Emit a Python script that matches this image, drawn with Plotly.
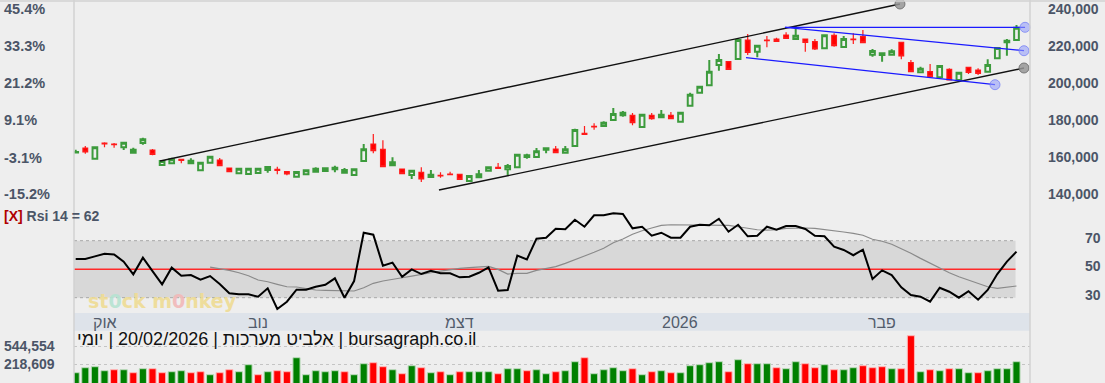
import plotly.graph_objects as go
import math

# ---------------- data ----------------
opens = [162600, 165030, 159250, 167730, 167190, 165410, 162490, 167730, 163950, 155840,
         156760, 158920, 156760, 152980, 157090, 158540, 154220, 151360, 150980, 151520,
         153140, 153520, 152220, 149520, 150820, 152220, 152600, 153520, 151680, 150440,
         158000, 167190, 164330, 155680, 153680, 150440, 151900, 149360, 150280, 150980,
         150820, 147200, 149200, 152760, 154600, 153520, 154600, 160170, 160170, 164110,
         164490, 162490, 166110, 172980, 176760, 176920, 180170, 182710, 182710, 176380,
         182710, 181630, 182710, 179250, 187900, 194920, 198920, 209890, 211680, 213140,
         223410, 217080, 223410, 223950, 226110, 223950, 223950, 222490, 218920, 225950,
         219620, 223950, 225190, 215460, 215300, 215460, 222160, 211140, 205950, 206270,
         203250, 207570, 201790, 208650, 207190, 206270, 213520, 222160, 223410]
highs = [164100, 166110, 165500, 168110, 167730, 168000, 165200, 170600, 164490, 158550,
         159800, 159100, 159460, 157200, 160400, 159630, 154300, 154000, 154000, 154000,
         155000, 154920, 152300, 152300, 153100, 154600, 154200, 155470, 154220, 153600,
         167190, 172600, 169190, 160000, 153750, 152850, 154600, 153140, 151900, 152220,
         151000, 150000, 153140, 154700, 156920, 156380, 161500, 161950, 165030, 164950,
         166110, 166110, 175460, 176920, 178380, 179460, 186650, 185030, 183950, 183100,
         183950, 185570, 184490, 184200, 194920, 198250, 212600, 215840, 211750, 223500,
         226650, 220400, 225570, 224600, 227570, 230970, 224000, 223950, 226000, 227030,
         225570, 227030, 228810, 218540, 216300, 218380, 222250, 212600, 208980, 210430,
         209400, 208110, 206270, 208700, 208110, 212980, 219150, 223950, 231510]
lows = [162170, 161950, 159200, 165410, 165200, 163950, 162400, 166820, 161090, 155700,
        156600, 156760, 156600, 152900, 157000, 155400, 152150, 151300, 150900, 151450,
        151680, 150820, 150280, 149400, 150700, 152100, 152500, 151900, 151600, 150400,
        157900, 162170, 154900, 155600, 151100, 148280, 146660, 149000, 149000, 150600,
        148050, 147100, 149100, 152700, 154000, 150440, 154500, 159250, 160100, 162170,
        162400, 162400, 166000, 172440, 174930, 176800, 180100, 181950, 177300, 176300,
        180330, 181500, 180800, 179200, 187800, 194850, 198380, 206820, 207500, 213050,
        215300, 214060, 219460, 222600, 224250, 223850, 217080, 218000, 218850, 219790,
        219550, 221240, 221900, 214380, 211680, 215400, 212980, 206200, 205410, 203500,
        203200, 201700, 201700, 205030, 204490, 206200, 213450, 214920, 223350]
closes = [162900, 162870, 165410, 167190, 166800, 167900, 164110, 169730, 161630, 158000,
          158920, 158380, 158160, 157090, 160330, 155470, 152220, 153850, 153850, 153850,
          154760, 152980, 150980, 152060, 152980, 153850, 154060, 154390, 153140, 153520,
          164330, 163570, 154920, 157300, 151140, 152760, 148280, 150600, 149900, 150600,
          148110, 149900, 150820, 154600, 154060, 155300, 161410, 161090, 163250, 164870,
          162490, 164330, 174760, 172440, 176380, 178710, 183410, 184110, 178710, 183030,
          180870, 183030, 180870, 184110, 193840, 198170, 206270, 212600, 207570, 223410,
          216760, 220330, 223030, 222700, 224330, 225730, 222160, 218540, 225950, 220330,
          223950, 223570, 221950, 217460, 216220, 217300, 214760, 206270, 207900, 203570,
          209350, 201790, 205730, 205950, 205410, 209890, 219080, 223030, 230050]

volumes = [142800, 184000, 193600, 158000, 166200, 166200, 142800, 174900, 174900, 142800,
           150200, 158000, 142800, 150200, 129000, 142800, 166200, 150200, 214200, 129000,
           150200, 158000, 150200, 305500, 129000, 158000, 150200, 158000, 150200, 129000,
           225400, 237100, 193600, 166200, 135700, 203600, 184000, 142800, 150200, 129000,
           150200, 150200, 150200, 150200, 135700, 174900, 174900, 158000, 166200, 135700,
           150200, 158000, 249400, 305500, 135700, 166200, 184000, 158000, 174900, 129000,
           150200, 158000, 142800, 142800, 203600, 214200, 237100, 249400, 150200, 276000,
           225400, 225400, 225400, 184000, 174900, 249400, 225400, 184000, 214200, 166200,
           166200, 184000, 203600, 184000, 193600, 174900, 174900, 932100, 150200, 166200,
           158000, 174900, 174900, 142800, 142800, 158000, 174900, 174900, 249400]
volume_dir = list("GGGGRGRGRR" "GGRRGRRGGR" "GRRGGGGGRG" "GRRGRGRGRG" "RGGGRGGRGG"
                  "RGGRGGGGRG" "RGRGGGGGRG" "RGGRGGRRGR" "GGRRRGRRGR" "GRGGRGGGG")

rsi = [57.2, 57.2, 59.0, 60.9, 60.4, 55.3, 46.4, 58.1, 48.7, 39.4,
       51.1, 45.4, 45.9, 42.6, 45.2, 39.6, 33.1, 32.4, 32.4, 30.7,
       36.6, 22.1, 27.2, 35.6, 35.6, 37.7, 39.1, 43.6, 30.0, 41.7,
       75.6, 74.2, 52.5, 54.6, 44.7, 49.9, 46.6, 48.9, 47.1, 47.1,
       44.3, 44.7, 47.5, 51.3, 34.9, 35.4, 59.5, 56.9, 71.4, 72.1,
       78.4, 78.0, 84.7, 79.8, 87.8, 87.8, 89.2, 88.7, 78.7, 79.8,
       73.5, 75.6, 72.1, 72.1, 79.8, 81.2, 80.8, 85.4, 76.3, 81.2,
       73.1, 73.5, 79.8, 77.7, 80.3, 80.3, 78.2, 73.5, 73.1, 65.8,
       63.5, 59.8, 63.7, 43.1, 49.2, 45.9, 37.3, 31.9, 30.7, 27.2,
       37.0, 34.2, 30.0, 34.5, 28.6, 35.4, 46.6, 55.3, 62.3]
rsi_ma = [None] * 14 + [
       51.5, 50.6, 49.2, 47.5, 45.4, 42.4,
       41.2, 39.4, 37.7, 37.5, 36.6, 35.4, 35.2, 35.2, 34.7, 34.7,
       37.0, 40.1, 41.7, 42.6, 44.0, 45.2, 46.6, 47.5, 48.7, 49.9,
       50.6, 51.1, 51.3, 52.0, 49.9, 46.6, 47.1, 47.1, 49.2, 50.6,
       51.8, 54.1, 56.5, 59.3, 61.9, 64.7, 68.6, 71.2, 74.5, 77.0,
       78.9, 80.8, 81.2, 81.2, 81.2, 81.2, 81.2, 81.2, 80.8, 79.8,
       78.9, 77.7, 77.4, 77.7, 78.6, 78.9, 78.9, 78.7, 78.0, 77.0,
       76.1, 75.2, 73.8, 71.0, 69.6, 67.5, 64.4, 61.2, 57.6, 54.1,
       50.8, 47.5, 44.7, 42.4, 39.6, 37.7, 36.6, 37.3, 38.2]

# trend lines drawn on the chart: (index, price) endpoints
trend_x0 = [8.79, 37.84, 73.89, 73.89, 69.82]
trend_y0 = [158000, 142330, 230270, 230270, 213840]
trend_x1 = [85.86, 98.78, 98.89, 98.78, 95.76]
trend_y1 = [242870, 208270, 230270, 217620, 199250]
trend_kind = ["black", "black", "blue", "blue", "blue"]

price_ticks = [240000, 220000, 200000, 180000, 160000, 140000]
pct_ticks = [45.4, 33.3, 21.2, 9.1, -3.1, -15.2]
base_price = 165000
rsi_ticks = [70, 50, 30]
vol_ticks = [544554, 218609]
month_labels = ["אוק", "נוב", "דצמ", "2026", "פבר"]
month_pos = [3.0, 19.0, 40.0, 62.9, 84.0]
rsi_value_text = "62"
title_text = "יומי\u200e | 20/02/2026 | אלביט מערכות\u200e | bursagraph.co.il"

# ---------------- styling ----------------
W, H = 1105, 383
BG = "#eeeeee"
TXT = "#4b5567"
FONT = "Liberation Sans, Arial, sans-serif"
GREEN = "#3c9b3c"
RED = "#ff0000"


def py(p):
    return 1 - p / H


def px(p):
    return p / W


XL, XR = 74, 1030
idx = list(range(len(closes)))

fig = go.Figure()

fig.add_trace(go.Candlestick(
    x=idx, open=opens, high=highs, low=lows, close=closes,
    increasing=dict(line=dict(color=GREEN, width=2), fillcolor="rgba(0,0,0,0)"),
    decreasing=dict(line=dict(color="#ff1a1a", width=1.2), fillcolor=RED),
    whiskerwidth=0, xaxis="x", yaxis="y", showlegend=False, hoverinfo="skip"))

# trend lines
for x0, y0, x1, y1, k in zip(trend_x0, trend_y0, trend_x1, trend_y1, trend_kind):
    fig.add_trace(go.Scatter(
        x=[x0, x1], y=[y0, y1], mode="lines",
        line=dict(color="#111111" if k == "black" else "#1a1aff", width=1.4 if k == "black" else 1.2),
        xaxis="x", yaxis="y", showlegend=False, hoverinfo="skip", cliponaxis=False))

# end handles of the trend lines
hx, hy, hc, hl = [], [], [], []
for x0, y0, x1, y1, k in zip(trend_x0, trend_y0, trend_x1, trend_y1, trend_kind):
    hx.append(x1)
    hy.append(y1)
    hc.append("rgba(150,150,150,0.85)" if k == "black" else "rgba(150,160,250,0.6)")
    hl.append("rgba(110,110,110,0.9)" if k == "black" else "rgba(120,130,245,0.8)")
fig.add_trace(go.Scatter(
    x=hx, y=hy, mode="markers",
    marker=dict(size=10, color=hc, line=dict(color=hl, width=1)),
    xaxis="x", yaxis="y", showlegend=False, hoverinfo="skip", cliponaxis=False))

# RSI
fig.add_trace(go.Scatter(x=idx, y=rsi_ma, mode="lines", line=dict(color="#8a8a8a", width=1.2),
                         xaxis="x", yaxis="y3", showlegend=False, hoverinfo="skip", connectgaps=False))
fig.add_trace(go.Scatter(x=idx, y=rsi, mode="lines", line=dict(color="#000000", width=2),
                         xaxis="x", yaxis="y3", showlegend=False, hoverinfo="skip", cliponaxis=False))

# volume
vcol = ["#008000" if d == "G" else "#ff0000" for d in volume_dir]
vline = ["#b9d9b9" if d == "G" else "#ffb4b4" for d in volume_dir]
fig.add_trace(go.Bar(x=idx, y=volumes, width=0.74,
                     marker=dict(color=vcol, line=dict(color=vline, width=1)),
                     xaxis="x", yaxis="y4", showlegend=False, hoverinfo="skip"))

# ---------------- axes ----------------
x_lo = -1.7 / 9.6
x_hi = len(closes) - 1 + (XR - 1016.5) / 9.6
p_top, p_bot = 2, 205
pr_hi = 240000 + (9.3 - p_top) * 540.5
pr_lo = 240000 - (p_bot - 9.3) * 540.5
r_top, r_bot = 207, 313
rs_hi = 70 + (240.7 - r_top) / 1.425
rs_lo = 30 - (r_bot - 297.7) / 1.425
v_top = 333
k = (math.log10(vol_ticks[0]) - math.log10(vol_ticks[1])) / 18.0
v_lo = math.log10(vol_ticks[1]) - (383 - 364.3) * k
v_hi = math.log10(vol_ticks[0]) + (346.3 - v_top) * k

common = dict(showgrid=False, zeroline=False, showticklabels=False, showline=False, ticks="")
fig.update_layout(
    width=W, height=H, margin=dict(l=0, r=0, t=0, b=0),
    paper_bgcolor=BG, plot_bgcolor=BG, font=dict(family=FONT, color=TXT),
    xaxis=dict(domain=[px(XL), px(XR)], range=[x_lo, x_hi], anchor="y",
               rangeslider=dict(visible=False), **common),
    yaxis=dict(domain=[py(p_bot), py(p_top)], range=[pr_lo, pr_hi], anchor="x", **common),
    yaxis3=dict(domain=[py(r_bot), py(r_top)], range=[rs_lo, rs_hi], anchor="x", **common),
    yaxis4=dict(domain=[0, py(v_top)], range=[v_lo, v_hi], type="log", anchor="x",
                showgrid=True, gridcolor="#c4c4c4", griddash="dot", gridwidth=1,
                tickvals=vol_ticks, showticklabels=False, zeroline=False, showline=False, ticks=""),
    bargap=0.26,
)

shapes = []
# frame lines
shapes.append(dict(type="line", xref="paper", yref="paper", x0=0, x1=1, y0=py(1), y1=py(1),
                   line=dict(color="#d2d2d2", width=1.5)))
for xx in (XL, XR):
    shapes.append(dict(type="line", xref="paper", yref="paper", x0=px(xx), x1=px(xx), y0=0, y1=1,
                       line=dict(color="#d2d2d2", width=1.5)))
# date band
shapes.append(dict(type="rect", xref="paper", yref="paper", x0=px(XL), x1=px(XR),
                   y0=py(330.7), y1=py(313), fillcolor="#dee3ea", line=dict(width=0), layer="below"))
# RSI band
band_end = len(closes) - 1.1
shapes.append(dict(type="rect", xref="x", yref="y3", x0=x_lo, x1=band_end, y0=30, y1=70,
                   fillcolor="#d8d8d8", line=dict(width=0), layer="below"))
for lv in (30, 70):
    shapes.append(dict(type="line", xref="x", yref="y3", x0=x_lo, x1=band_end, y0=lv, y1=lv,
                       line=dict(color="#a8a8a8", width=1, dash="dot"), layer="below"))
shapes.append(dict(type="line", xref="x", yref="y3", x0=x_lo, x1=band_end, y0=50, y1=50,
                   line=dict(color="#ff2a2a", width=1.6), layer="below"))
fig.update_layout(shapes=shapes)

ann = []
lab_font = dict(family=FONT, size=14, color=TXT)
for pv in price_ticks:
    ann.append(dict(xref="paper", yref="y", x=px(1101), y=pv, xanchor="right", yanchor="middle",
                    text="<b>{:,}</b>".format(pv), showarrow=False, font=lab_font))
for pc in pct_ticks:
    ann.append(dict(xref="paper", yref="y", x=px(2), y=base_price * (1 + pc / 100.0),
                    xanchor="left", yanchor="middle", text="<b>{}%</b>".format(pc),
                    showarrow=False, font=dict(family=FONT, size=14.5, color=TXT)))
for rv in rsi_ticks:
    ann.append(dict(xref="paper", yref="y3", x=px(1103), y=rv, xanchor="right", yanchor="middle",
                    yshift=3, text="<b>{}</b>".format(rv), showarrow=False, font=lab_font))
for vv in vol_ticks:
    ann.append(dict(xref="paper", yref="y4", x=px(2), y=math.log10(vv), xanchor="left",
                    yanchor="middle", text="<b>{:,}</b>".format(vv), showarrow=False, font=lab_font))
ann.append(dict(xref="paper", yref="paper", x=px(2), y=py(216), xanchor="left", yanchor="middle",
                text="<b><span style='color:#b00000'>[X]</span> Rsi 14 = " + rsi_value_text + "</b>",
                showarrow=False, font=lab_font))
for ml, mp in zip(month_labels, month_pos):
    ann.append(dict(xref="x", yref="paper", x=mp, y=py(322), xanchor="center", yanchor="middle",
                    text=ml, showarrow=False, font=dict(family=FONT, size=16, color="#525c6c")))
ann.append(dict(xref="paper", yref="paper", x=px(75), y=py(338.5), xanchor="left", yanchor="middle",
                text=title_text, showarrow=False, font=dict(family=FONT, size=18, color="#111111")))
ann.append(dict(xref="paper", yref="paper", x=px(86), y=py(301), xanchor="left", yanchor="middle",
                text="<b>st<span style='color:#b6e4d2'>0</span>ck m<span style='color:#f2b8b8'>0</span>nkey</b>",
                showarrow=False, opacity=0.9,
                font=dict(family="DejaVu Sans, sans-serif", size=19, color="#efdc94")))
fig.update_layout(annotations=ann)

fig.write_html("out.html", config={"displayModeBar": False, "staticPlot": True},
               post_script="document.body.style.margin='0';document.body.style.padding='0';"
                           "document.body.style.background='" + BG + "';")
